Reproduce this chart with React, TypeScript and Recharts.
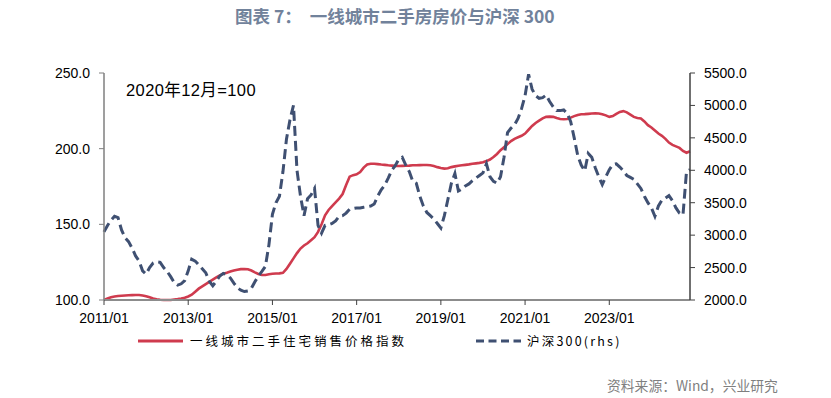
import React from "react";
import { LineChart, Line, XAxis, YAxis } from "recharts";

// 2011/01 - 2024/12, monthly
const years = [2011, 2012, 2013, 2014, 2015, 2016, 2017, 2018, 2019, 2020, 2021, 2022, 2023, 2024];
const monthNums = ["01", "02", "03", "04", "05", "06", "07", "08", "09", "10", "11", "12"];
const months = years.flatMap((y) => monthNums.map((m) => `${y}/${m}`));

// 一线城市二手住宅销售价格指数 (left axis)
const housePrice = [
  100, 101, 101.8, 102.3, 102.6, 102.8, 103, 103.1, 103.2, 103.3, 103.3, 103,
  102.5, 101.8, 101, 100.5, 100.2, 100, 100, 100, 100.3, 100.6, 101, 101.5,
  102.3, 103.5, 105.5, 107.5, 109, 110.5, 112, 113.5, 115, 116.3, 117.3, 118,
  118.8, 119.5, 120, 120.4, 120.5, 120.3, 119.5, 118.3, 117.2, 116.5, 116.5, 117,
  117.3, 117.5, 117.6, 118, 120.5, 124, 127.5, 131, 134, 136, 137.5, 139.5,
  141.5, 145, 150, 156, 159.5, 162, 164.5, 167, 170, 176, 181.5, 182.5,
  183, 184.5, 187.5, 189.5, 190, 190, 189.8, 189.5, 189.3, 189, 188.8, 188.6,
  188.5, 188.6, 188.7, 188.8, 189, 189, 189.1, 189.2, 189.2, 189, 188.5, 187.8,
  187.2, 186.8, 187, 187.8, 188.3, 188.7, 189, 189.3, 189.6, 190, 190.3, 190.6,
  191, 191.8, 192.8, 194.5, 196.5, 199, 201, 203, 205, 206.5, 207.5, 208.5,
  210, 212.5, 215, 217, 218.5, 220, 221, 221.2, 221, 220.2, 219.6, 219.4,
  219.6, 220.5, 221.5, 222.3, 222.7, 222.8, 223, 223.2, 223.3, 223.2, 222.8, 222,
  221, 221.5, 223, 224.3, 224.8, 224, 222.5, 221, 220.3, 220, 218, 215.5,
  214, 212, 210, 208.5, 206.5, 204, 202.5, 201.5, 200.5, 198.5, 197.3, 198.3,
];

// 沪深300 (right axis)
const csi300 = [
  3050, 3150, 3230, 3290, 3270, 3080, 2960, 2900, 2800, 2680, 2600, 2450,
  2400, 2500, 2570, 2590, 2580, 2500, 2440, 2360, 2270, 2230, 2250, 2300,
  2450, 2630, 2600, 2540, 2480, 2420, 2290, 2220, 2290, 2370, 2410, 2390,
  2340, 2260, 2190, 2150, 2130, 2140, 2180, 2280, 2370, 2440, 2520, 2850,
  3320, 3500, 3600, 3980, 4480, 4780, 5000, 4000, 3600, 3300, 3560, 3620,
  3720, 3150, 3030, 3150, 3160, 3180, 3220, 3290, 3300, 3340, 3400, 3410,
  3420, 3420, 3430, 3440, 3450, 3480, 3600, 3700, 3770, 3880, 4000, 4070,
  4170, 4200, 4080, 3980, 3830, 3800, 3600, 3450, 3350, 3300, 3250, 3180,
  3110, 3300, 3550, 3800, 3950, 3680, 3710, 3760, 3790, 3840, 3880, 3920,
  3960, 4100, 3900, 3830, 3800, 3900, 4200, 4580, 4650, 4700, 4800, 4950,
  5150, 5480, 5250, 5150, 5110, 5120, 5160, 5060, 4980, 4920, 4920, 4930,
  4880, 4750, 4500, 4230, 4080, 3990, 4260, 4200, 4040, 3900, 3780, 3900,
  4010, 4090, 4100, 4050, 3990, 3920, 3890, 3860, 3790, 3720, 3600, 3500,
  3420, 3290, 3450, 3540, 3570, 3610, 3530, 3420, 3340, 3310, 3980, 4010,
];

const leftTicks = [100, 150, 200, 250];
const rightTicks = [2000, 2500, 3000, 3500, 4000, 4500, 5000, 5500];

const data = months.map((month, i) => ({
  month,
  house: housePrice[i],
  csi: csi300[i],
}));

const RED = "#cf3b4e";
const NAVY = "#3f5072";
const tickFont = { fontSize: 14, fill: "#000", fontFamily: "'Liberation Sans', Arial, sans-serif" };

export default function App() {
  return (
    <div
      style={{
        position: "absolute",
        left: 0,
        top: 0,
        width: 831,
        height: 398,
        background: "#fff",
        fontFamily: "'Liberation Sans', 'Noto Sans CJK SC', sans-serif",
      }}
    >
      <div
        style={{
          position: "absolute",
          left: 235,
          top: 3,
          fontSize: 17.5,
          fontWeight: 700,
          color: "#71829b",
          fontFamily: "'Noto Sans CJK SC', sans-serif",
          whiteSpace: "pre",
        }}
      >
        图表 7：  一线城市二手房房价与沪深 300
      </div>

      <LineChart
        width={831}
        height={398}
        data={data}
        margin={{ top: 73, right: 81, bottom: 68, left: 44 }}
      >
        <XAxis
          dataKey="month"
          interval={23}
          height={30}
          tick={tickFont}
          tickSize={5}
          tickMargin={8}
          axisLine={{ stroke: "#8c8c8c", strokeWidth: 2 }}
          tickLine={{ stroke: "#404040" }}
        />
        <YAxis
          yAxisId="left"
          orientation="left"
          width={60}
          domain={[100, 250]}
          ticks={leftTicks}
          tickFormatter={(v: number) => v.toFixed(1)}
          tick={tickFont}
          tickSize={5}
          tickMargin={9}
          axisLine={{ stroke: "#7f7f7f", strokeWidth: 1.5 }}
          tickLine={{ stroke: "#7f7f7f" }}
        />
        <YAxis
          yAxisId="right"
          orientation="right"
          width={60}
          domain={[2000, 5500]}
          ticks={rightTicks}
          tickFormatter={(v: number) => v.toFixed(1)}
          tick={tickFont}
          tickSize={5}
          tickMargin={9}
          axisLine={{ stroke: "#404040", strokeWidth: 1.5 }}
          tickLine={{ stroke: "#404040" }}
        />
        <Line
          yAxisId="left"
          type="linear"
          dataKey="house"
          stroke={RED}
          strokeWidth={2.6}
          dot={false}
          isAnimationActive={false}
        />
        <Line
          yAxisId="right"
          type="linear"
          dataKey="csi"
          stroke={NAVY}
          strokeWidth={3}
          strokeDasharray="10 5"
          dot={false}
          isAnimationActive={false}
        />
      </LineChart>

      <div
        style={{
          position: "absolute",
          left: 126,
          top: 77,
          fontSize: 16.5,
          letterSpacing: 0.4,
          color: "#000",
          fontFamily: "'Liberation Sans', 'Noto Sans CJK SC', sans-serif",
        }}
      >
        2020年12月=100
      </div>

      <svg style={{ position: "absolute", left: 0, top: 330 }} width={831} height={22}>
        <line x1={138} y1={11} x2={183} y2={11} stroke={RED} strokeWidth={3} />
        <text
          x={190}
          y={16}
          fontSize={12.5}
          letterSpacing={3}
          fontFamily="'Noto Sans CJK SC', sans-serif"
          fill="#000"
        >
          一线城市二手住宅销售价格指数
        </text>
        <line x1={476} y1={11} x2={521} y2={11} stroke={NAVY} strokeWidth={3} strokeDasharray="8 4.5" />
        <text
          x={527}
          y={16}
          fontSize={12.5}
          letterSpacing={2.2}
          fontFamily="'Noto Sans CJK SC', sans-serif"
          fill="#000"
        >
          沪深300(rhs)
        </text>
      </svg>

      <div
        style={{
          position: "absolute",
          left: 607,
          top: 375,
          fontSize: 13.8,
          color: "#7f7f7f",
          fontFamily: "'Noto Sans CJK SC', sans-serif",
          whiteSpace: "nowrap",
        }}
      >
        资料来源：Wind，兴业研究
      </div>
    </div>
  );
}
